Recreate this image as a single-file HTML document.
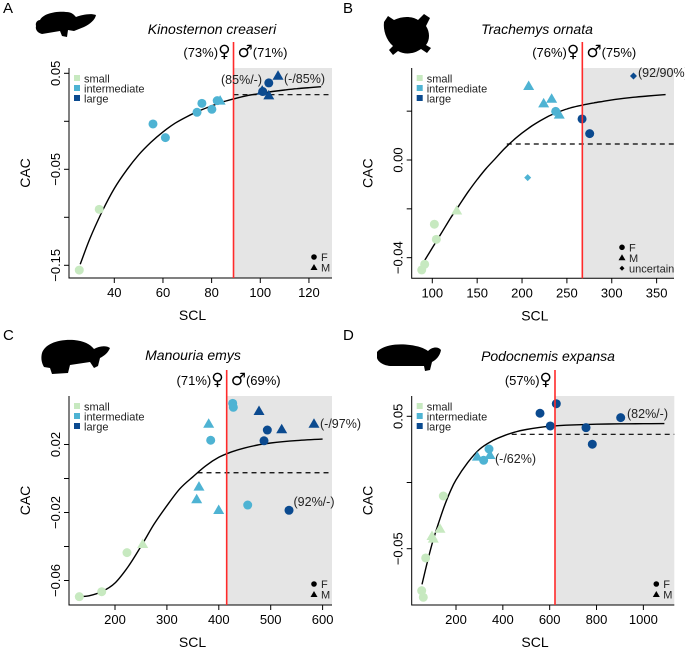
<!DOCTYPE html>
<html><head><meta charset="utf-8">
<style>
html,body{margin:0;padding:0;background:#fff;}
svg{display:block;font-family:"Liberation Sans",sans-serif;}
</style></head>
<body>
<svg id="fig" width="685" height="649" viewBox="0 0 685 649" xmlns="http://www.w3.org/2000/svg"></svg>
<script>
// ---------- Panel A data ----------
const aSCL=[25.6,33.8,55.9,61,74,76,80.1,82.3,83.5,100.8,101,103.5,103.5,107.3];
const aCAC=[-0.155,-0.0917,-0.0028,-0.017,0.0094,0.0187,0.0125,0.0215,0.0215,0.032,0.031,0.040,0.027,0.0475];
const aSize=["s","s","i","i","i","i","i","i","i","l","l","l","l","l"];
const aSex=["F","F","F","F","F","F","F","F","M","M","F","F","M","M"];
const aCurveX=[26,30,35,40,45,50,55,60,65,70,75,80,85,90,95,100,105,110,115,120,125];
const aCurveY=[-0.149,-0.122,-0.094,-0.070,-0.051,-0.035,-0.022,-0.011,-0.002,0.005,0.011,0.016,0.0205,0.024,0.027,0.029,0.031,0.0326,0.034,0.035,0.036];
const aXTicks=[40,60,80,100,120];
const aYTicks=[0.05,0,-0.05,-0.10,-0.15];
const aYLabels=["0.05","","\u22120.05","","\u22120.15"];
const aThreshold=89, aPlateau=0.0277;
// ---------- Panel B data ----------
const bSCL=[88.2,91.5,102.3,104.5,127.2,206.3,207.4,224.1,233,237.5,241.5,266.9,275.4,324.2];
const bCAC=[-0.045,-0.0427,-0.0263,-0.0325,-0.0207,-0.0072,0.0303,0.0232,0.0251,0.0199,0.0186,0.0168,0.0108,0.0344];
const bSize=["s","s","s","s","s","i","i","i","i","i","i","l","l","l"];
const bSex=["F","F","F","F","M","U","M","M","M","F","M","F","F","U"];
const bCurveX=[90,100,110,120,130,140,150,160,170,180,190,200,210,220,230,240,250,260,270,280,290,300,320,340,360];
const bCurveY=[-0.042,-0.036,-0.030,-0.024,-0.0185,-0.013,-0.008,-0.0035,0.0005,0.0045,0.0080,0.0110,0.0137,0.0160,0.0180,0.0196,0.0209,0.0219,0.0227,0.0234,0.0240,0.0246,0.0255,0.0262,0.0268];
const bXTicks=[100,150,200,250,300,350];
const bYTicks=[0.02,0,-0.02,-0.04];
const bYLabels=["","0.00","","\u22120.04"];
const bThreshold=267.2, bPlateau=0.00655, bDashStart=183;
// ---------- Panel C data ----------
const cSCL=[131.2,174.4,223.1,253.4,357.4,361.8,380.5,384.4,399.8,426.8,428,455.7,477.5,487.1,493.5,521.2,535.3,583.4];
const cCAC=[-0.0695,-0.0666,-0.0436,-0.0385,-0.0122,-0.0048,0.0322,0.0225,-0.0185,0.0442,0.0419,-0.0156,0.0397,0.0222,0.0285,0.029,-0.0187,0.0322];
const cSize=["s","s","s","s","i","i","i","i","i","i","i","i","l","l","l","l","l","l"];
const cSex=["F","F","F","M","M","M","M","F","M","F","F","F","M","F","F","M","F","M"];
const cCurveX=[130,150,175,200,225,250,275,300,325,350,375,400,425,450,475,500,550,600];
const cCurveY=[-0.0695,-0.069,-0.0665,-0.0615,-0.052,-0.040,-0.027,-0.016,-0.006,0.001,0.0075,0.0125,0.0157,0.018,0.0197,0.0209,0.0223,0.0232];
const cXTicks=[200,300,400,500,600];
const cYTicks=[0.02,0,-0.02,-0.04,-0.06];
const cYLabels=["0.02","","\u22120.02","","\u22120.06"];
const cThreshold=415.2, cPlateau=0.0034, cDashStart=359;
// ---------- Panel D data ----------
const dSCL=[53.5,60.4,70.6,145.8,97.5,103,131.7,291,318,340.9,345.2,558.7,602.6,628.3,755.1,782,903.2];
const dCAC=[-0.0817,-0.0867,-0.057,-0.0102,-0.0404,-0.0424,-0.0349,0.0195,0.0168,0.0253,0.0208,0.0523,0.0427,0.0595,0.0414,0.0289,0.049];
const dSize=["s","s","s","s","s","s","s","i","i","i","i","l","l","l","l","l","l"];
const dSex=["F","F","F","F","M","M","M","M","F","F","M","F","F","F","F","F","F"];
const dCurveX=[55,75,100,125,150,175,200,250,300,350,400,450,500,600,700,800,900,1000,1090];
const dCurveY=[-0.077,-0.062,-0.045,-0.031,-0.018,-0.007,0.002,0.015,0.025,0.031,0.035,0.038,0.040,0.0425,0.0435,0.044,0.0443,0.0444,0.0445];
const dXTicks=[200,400,600,800,1000];
const dYTicks=[0.05,0,-0.05];
const dYLabels=["0.05","","\u22120.05"];
const dThreshold=622.7, dPlateau=0.0364, dDashStart=437.8;

const NS="http://www.w3.org/2000/svg";
const svg=document.getElementById('fig');
const COLORS={s:"#c7e9c0",i:"#4eb3d3",l:"#0b4a8f"};
function mk(tag,attrs,parent,text){
  const e=document.createElementNS(NS,tag);
  for(const k in attrs)e.setAttribute(k,attrs[k]);
  if(text!==undefined)e.textContent=text;
  (parent||svg).appendChild(e);return e;
}
function smoothPath(pts){
  let d="M"+pts[0][0].toFixed(1)+","+pts[0][1].toFixed(1);
  for(let i=0;i<pts.length-1;i++){
    const p0=pts[Math.max(0,i-1)],p1=pts[i],p2=pts[i+1],p3=pts[Math.min(pts.length-1,i+2)];
    const c1x=p1[0]+(p2[0]-p0[0])/6,c1y=p1[1]+(p2[1]-p0[1])/6;
    const c2x=p2[0]-(p3[0]-p1[0])/6,c2y=p2[1]-(p3[1]-p1[1])/6;
    d+=`C${c1x.toFixed(1)},${c1y.toFixed(1)} ${c2x.toFixed(1)},${c2y.toFixed(1)} ${p2[0].toFixed(1)},${p2[1].toFixed(1)}`;
  }
  return d;
}
function sexText(parent,x,y,anchor,parts){
  const t=mk('text',{x:x,y:y,"text-anchor":anchor,"font-size":13},parent);
  parts.forEach(pt=>{
    const s=mk('tspan',pt[1]?{"font-family":"DejaVu Sans","font-size":17}:{},t,pt[0]);
  });
  return t;
}
function drawPanel(p){
  const g=mk('g',{});
  
  
  const sx=v=>p.x0px+(v-p.x0)*p.kx;
  const sy=v=>p.y0px-(v-p.y0)*p.ky;
  const sh=mk('rect',{x:sx(p.thr),y:p.top,width:p.right-sx(p.thr),height:p.bottom-p.top,fill:"#e5e5e5"},g);
  
  
  const ax=mk('path',{d:`M${p.left},${p.top}V${p.bottom}H${p.right}`,fill:"none",stroke:"#000","stroke-width":1},g);
  
  
  p.xt.forEach(t=>{
    const x=sx(t);
    mk('line',{x1:x,x2:x,y1:p.bottom,y2:p.bottom+5,stroke:"#000"},g);
    const tl=mk('text',{x:x,y:p.bottom+19,"text-anchor":"middle","font-size":13},g,String(t));
    
    
  });
  p.yt.forEach((t,i)=>{
    const y=sy(t);
    mk('line',{x1:p.left-5,x2:p.left,y1:y,y2:y,stroke:"#000"},g);
    if(p.yl[i]){
      const tl=mk('text',{x:p.left-9,y:y,"text-anchor":"middle","font-size":13,transform:`rotate(-90 ${p.left-9} ${y})`},g,p.yl[i]);
      
      
    }
  });
  const xl=mk('text',{x:(p.left+p.right)/2-8,y:p.bottom+42,"text-anchor":"middle","font-size":14},g,"SCL");
  
  
  const cy=(p.top+p.bottom)/2;
  const yl=mk('text',{x:p.left-39,y:cy,"text-anchor":"middle","font-size":14,transform:`rotate(-90 ${p.left-39} ${cy})`},g,"CAC");
  
  
  const ds=mk('line',{x1:sx(p.dashStart),x2:p.right,y1:sy(p.plat),y2:sy(p.plat),stroke:"#000","stroke-dasharray":"5,4","stroke-width":1.2},g);
  
  
  const pts=p.cx.map((v,i)=>[sx(v),sy(p.cy[i])]);
  const cv=mk('path',{d:smoothPath(pts),fill:"none",stroke:"#000","stroke-width":1.4},g);
  
  
  p.xs.forEach((v,i)=>{
    const x=sx(v),y=sy(p.ys[i]),c=COLORS[p.size[i]];
    let e;
    if(p.sex[i]==="F")e=mk('circle',{cx:x,cy:y,r:4.5,fill:c},g);
    else if(p.sex[i]==="M")e=mk('path',{d:`M${x},${y-5.5}L${x+5.5},${y+4}L${x-5.5},${y+4}Z`,fill:c},g);
    else e=mk('path',{d:`M${x},${y-3.5}L${x+3.5},${y}L${x},${y+3.5}L${x-3.5},${y}Z`,fill:c},g);
    
    
  });
  const rl=mk('line',{x1:sx(p.thr),x2:sx(p.thr),y1:p.top-26,y2:p.bottom,stroke:"#ff2a2a","stroke-width":1.6},g);
  
  
  [["s","small"],["i","intermediate"],["l","large"]].forEach((L,k)=>{
    const y=p.top+11+k*10;
    mk('rect',{x:p.left+5,y:y-4,width:6,height:6,fill:COLORS[L[0]]},g);
    const t=mk('text',{x:p.left+15,y:y+3.5,"font-size":11,fill:"#222"},g,L[1]);
    
    
  });
  const sl=p.sexLegend;
  sl.forEach((s,k)=>{
    const y=p.bottom-(sl.length===3?31:21)+k*10.5;
    const x=p.right-(sl.length===3?52:18);
    if(s==="F")mk('circle',{cx:x,cy:y,r:2.8,fill:"#000"},g);
    else if(s==="M")mk('path',{d:`M${x},${y-3.5}L${x+3.5},${y+2.5}L${x-3.5},${y+2.5}Z`,fill:"#000"},g);
    else mk('path',{d:`M${x},${y-2.5}L${x+2.5},${y}L${x},${y+2.5}L${x-2.5},${y}Z`,fill:"#000"},g);
    const t=mk('text',{x:x+7,y:y+4,"font-size":11,fill:"#222"},g,s==="U"?"uncertain":s);
    
    
  });
  const rx=sx(p.thr);
  const fl=sexText(g,rx-3,p.top-11,"end",[[p.fem,false],["\u2640",true]]);
  
  
  if(p.male){
    const ml=sexText(g,rx+4,p.top-11,"start",[["\u2642",true],[p.male,false]]);
    
    
  }
  p.notes.forEach(n=>{
    const t=mk('text',{x:n[0],y:n[1],"text-anchor":n[3]||"start","font-size":12.5,fill:"#222"},g,n[2]);
    
    
  });
  const tt=mk('text',{x:p.titleX,y:p.titleY,"text-anchor":"middle","font-size":14,"font-style":"italic"},g,p.title);
  
  
  const lt=mk('text',{x:p.letterX,y:p.letterY,"font-size":15},g,p.id.toUpperCase());
  
  
  const sil=mk('path',{d:p.sil,fill:"#000"},g);
  
  
}
drawPanel({id:"a",left:69,right:332,top:68,bottom:278,x0:40,x0px:114.3,kx:2.433,y0:0.05,y0px:73.3,ky:960,
  xs:aSCL,ys:aCAC,size:aSize,sex:aSex,cx:aCurveX,cy:aCurveY,xt:aXTicks,yt:aYTicks,yl:aYLabels,
  thr:aThreshold,plat:aPlateau,dashStart:aThreshold,sexLegend:["F","M"],
  fem:"(73%)",male:"(71%)",notes:[[262,84,"(85%/-)","end"],[284,83,"(-/85%)"]],
  title:"Kinosternon creaseri",titleX:212,titleY:34,letterX:3,letterY:13,
  sil:"M36,26C35,22 38,20 40,20C43,14 55,11 66,12C72,12 74,15 76,17C82,15 90,13 96,15C95,20 90,24 84,27L74,31L68,30L67,37L62,36L60,31L42,34C38,33 35,30 36,26Z"});
drawPanel({id:"b",left:411.7,right:674,top:68,bottom:278.3,x0:100,x0px:432.3,kx:0.8973,y0:0,y0px:160,ky:2442,
  xs:bSCL,ys:bCAC,size:bSize,sex:bSex,cx:bCurveX,cy:bCurveY,xt:bXTicks,yt:bYTicks,yl:bYLabels,
  thr:bThreshold,plat:bPlateau,dashStart:bDashStart,sexLegend:["F","M","U"],
  fem:"(76%)",male:"(75%)",notes:[[638,77,"(92/90%)"]],
  title:"Trachemys ornata",titleX:537,titleY:34,letterX:343,letterY:13,
  sil:"M384,22L388,16L394,20C402,16 412,16 418,20L424,14L430,18L426,26C430,32 430,40 426,45L431,48L427,53L421,49C414,54 405,55 398,51L393,55L389,50L393,46C386,40 383,30 384,22Z"});
drawPanel({id:"c",left:69,right:332,top:396,bottom:605,x0:200,x0px:115,kx:0.519,y0:0,y0px:478.5,ky:1700,
  xs:cSCL,ys:cCAC,size:cSize,sex:cSex,cx:cCurveX,cy:cCurveY,xt:cXTicks,yt:cYTicks,yl:cYLabels,
  thr:cThreshold,plat:cPlateau,dashStart:cDashStart,sexLegend:["F","M"],
  fem:"(71%)",male:"(69%)",notes:[[320,428,"(-/97%)"],[314,506,"(92%/-)","middle"]],
  title:"Manouria emys",titleX:193,titleY:360,letterX:3,letterY:340,
  sil:"M42,353C45,344 58,339 74,340C84,341 90,344 94,349C99,346 106,345 110,348C108,353 104,356 100,358L98,366L94,368L90,362L70,365L68,373L52,374L50,368L44,367C41,362 41,357 42,353Z"});
drawPanel({id:"d",left:411.7,right:674.3,top:396,bottom:605,x0:200,x0px:456,kx:0.2342,y0:0,y0px:482.5,ky:1324,
  xs:dSCL,ys:dCAC,size:dSize,sex:dSex,cx:dCurveX,cy:dCurveY,xt:dXTicks,yt:dYTicks,yl:dYLabels,
  thr:dThreshold,plat:dPlateau,dashStart:dDashStart,sexLegend:["F","M"],
  fem:"(57%)",male:null,notes:[[495,463,"(-/62%)"],[627,418,"(82%/-)"]],
  title:"Podocnemis expansa",titleX:548,titleY:361,letterX:343,letterY:340,
  sil:"M377,352C382,346 395,343 410,345C418,346 424,348 428,351C432,347 438,346 441,350C440,356 436,360 432,362L430,370L425,371L424,366L392,366C384,366 378,362 377,358Z"});
</script>
</body></html>
